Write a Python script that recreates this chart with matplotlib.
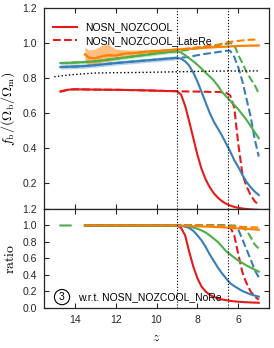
import numpy as np
import matplotlib
matplotlib.use("Agg")
import matplotlib.pyplot as plt

plt.rcParams['font.family'] = ['Liberation Sans', 'DejaVu Sans']
plt.rcParams['mathtext.fontset'] = 'cm'
plt.rcParams['font.size'] = 7.5

# colours (Set1-like)
c_red, c_blue, c_green, c_orange = '#e41a1c', '#377eb8', '#4daf4a', '#ff7f00'

# ---- top panel: baryon fraction ----
z_early = [14.7, 14.3, 14.0, 13.5, 13.0, 12.0, 11.0, 10.0, 9.5, 9.0]
red_early = [0.722, 0.733, 0.735, 0.734, 0.733, 0.732, 0.73, 0.727, 0.725, 0.724]
blue_early = [0.862, 0.864, 0.865, 0.868, 0.873, 0.885, 0.895, 0.905, 0.91, 0.915]
green_early = [0.885, 0.886, 0.888, 0.891, 0.895, 0.91, 0.925, 0.94, 0.947, 0.953]

z_late = [8.8, 8.6, 8.4, 8.2, 8.0, 7.8, 7.6, 7.4, 7.2, 7.0, 6.8, 6.6, 6.4,
          6.2, 6.0, 5.8, 5.6, 5.4, 5.2, 5.0]
red_solid = [0.705, 0.64, 0.55, 0.455, 0.36, 0.28, 0.22, 0.175, 0.14, 0.115,
             0.095, 0.08, 0.07, 0.062, 0.057, 0.053, 0.05, 0.048, 0.046, 0.045]
blue_solid = [0.91, 0.895, 0.87, 0.83, 0.78, 0.72, 0.66, 0.60, 0.55, 0.51,
              0.47, 0.425, 0.38, 0.33, 0.29, 0.245, 0.205, 0.175, 0.15, 0.13]
green_solid = [0.945, 0.93, 0.912, 0.895, 0.875, 0.853, 0.83, 0.808, 0.785, 0.755,
               0.72, 0.695, 0.67, 0.645, 0.62, 0.59, 0.56, 0.525, 0.49, 0.455]
red_late = [0.723, 0.723, 0.722, 0.722, 0.722, 0.721, 0.721, 0.72, 0.72, 0.72,
            0.718, 0.715, 0.70, 0.63, 0.42, 0.25, 0.18, 0.13, 0.095, 0.072]
blue_late = [0.916, 0.918, 0.92, 0.925, 0.93, 0.934, 0.938, 0.941, 0.944, 0.948,
             0.951, 0.955, 0.955, 0.92, 0.86, 0.78, 0.68, 0.58, 0.45, 0.35]
green_late = [0.955, 0.958, 0.962, 0.966, 0.97, 0.974, 0.978, 0.981, 0.984, 0.988,
              0.991, 0.995, 1.0, 0.99, 0.93, 0.885, 0.835, 0.795, 0.76, 0.71]

z_or = [13.5, 13.3, 13.0, 12.7, 12.4, 12.0, 11.5, 11.0, 10.5, 10.0, 9.5, 9.0,
        8.5, 8.0, 7.5, 7.0, 6.5, 6.0, 5.5, 5.0]
orange_solid = [0.935, 0.915, 0.912, 0.922, 0.93, 0.928, 0.94, 0.943, 0.95, 0.953, 0.958, 0.963,
                0.966, 0.97, 0.974, 0.977, 0.98, 0.983, 0.985, 0.986]
orange_late = [0.935, 0.915, 0.912, 0.922, 0.93, 0.928, 0.94, 0.943, 0.95, 0.953, 0.958, 0.963,
               0.968, 0.975, 0.983, 0.99, 1.005, 1.012, 1.018, 1.02]
orange_hi = [0.975, 0.96, 0.965, 0.985, 0.995, 0.965, 0.96, 0.96, 0.962, 0.965, 0.967, 0.97,
             0.972, 0.975, 0.978, 0.981, 0.984, 0.987, 0.989, 0.99]
orange_lo = [0.89, 0.875, 0.88, 0.89, 0.895, 0.905, 0.915, 0.925, 0.935, 0.945, 0.95, 0.955,
             0.96, 0.965, 0.97, 0.973, 0.976, 0.979, 0.981, 0.982]

z_dot = [15.0, 14.0, 13.0, 12.0, 11.0, 10.0, 9.0, 8.0, 7.0, 6.0, 5.0]
dotted_ref = [0.807, 0.82, 0.828, 0.83, 0.831, 0.833, 0.835, 0.837, 0.839, 0.84, 0.84]

# ---- bottom panel: ratio w.r.t. NoRe ----
z_r = [14.7, 14.2, 14.0, 13.5, 12.0, 10.0, 9.0, 8.8, 8.6, 8.4, 8.2, 8.0, 7.8, 7.6, 7.4,
       7.2, 7.0, 6.8, 6.6, 6.4, 6.2, 6.0, 5.8, 5.6, 5.4, 5.2, 5.0]
nan = np.nan
r_red = [nan, nan, nan, 1.0, 1.0, 1.0, 1.0, 0.97, 0.88, 0.68, 0.50, 0.36, 0.26, 0.20, 0.16,
         0.135, 0.115, 0.104, 0.095, 0.087, 0.08, 0.076, 0.072, 0.069, 0.067, 0.065, 0.063]
r_blue = [nan, nan, nan, 1.0, 1.0, 1.0, 1.0, 0.995, 0.985, 0.97, 0.935, 0.88, 0.82, 0.74, 0.65,
          0.57, 0.49, 0.42, 0.36, 0.30, 0.265, 0.235, 0.205, 0.185, 0.165, 0.15, 0.137]
r_green = [1.0, 1.0, nan, 1.0, 1.0, 1.0, 1.0, 0.998, 0.995, 0.988, 0.975, 0.96, 0.94, 0.915, 0.88,
           0.84, 0.80, 0.745, 0.69, 0.65, 0.61, 0.575, 0.545, 0.515, 0.49, 0.465, 0.44]
r_orange = [nan, nan, nan, 1.0, 1.0, 1.0, 1.0, 0.998, 0.995, 0.993, 0.991, 0.99, 0.988, 0.986, 0.984,
            0.982, 0.98, 0.977, 0.975, 0.972, 0.968, 0.965, 0.962, 0.958, 0.955, 0.951, 0.948]
r_red_late = [nan, nan, nan, 1.0, 1.0, 1.0, 1.0, 1.0, 1.0, 1.0, 1.0, 1.0, 1.0, 1.0, 1.0,
              1.0, 1.0, 1.0, 1.0, 0.98, 0.88, 0.65, 0.43, 0.30, 0.20, 0.14, 0.10]
r_blue_late = [nan, nan, nan, 1.0, 1.0, 1.0, 1.0, 1.0, 1.0, 1.0, 1.0, 1.0, 1.0, 1.0, 1.0,
               1.0, 1.0, 1.0, 1.0, 0.995, 0.99, 0.95, 0.83, 0.71, 0.59, 0.46, 0.37]
r_green_late = [nan, nan, nan, 1.0, 1.0, 1.0, 1.0, 1.0, 1.0, 1.0, 1.0, 1.0, 1.0, 1.0, 1.0,
                1.0, 1.0, 1.0, 1.0, 1.0, 1.0, 0.99, 0.97, 0.94, 0.86, 0.77, 0.72]
r_orange_late = [nan, nan, nan, 1.0, 1.0, 1.0, 1.0, 1.0, 1.0, 1.0, 1.0, 1.0, 0.999, 0.998, 0.997,
                 0.996, 0.995, 0.993, 0.991, 0.99, 0.988, 0.985, 0.983, 0.98, 0.978, 0.976, 0.975]

fig = plt.figure(figsize=(2.74, 3.48), dpi=100)
ax1 = fig.add_axes([0.1606, 0.3994, 0.8212, 0.5776])
ax2 = fig.add_axes([0.1606, 0.115, 0.8212, 0.2845], sharex=ax1)

lw = 1.5
ze = np.array(z_early)
ax1.fill_between(ze, np.array(blue_early) - 0.012, np.array(blue_early) + 0.012,
                 color=c_blue, alpha=0.35, lw=0)
ax1.fill_between(ze, np.array(green_early) - 0.01, np.array(green_early) + 0.01,
                 color=c_green, alpha=0.35, lw=0)
ax1.fill_between(z_or, orange_lo, orange_hi, color=c_orange, alpha=0.5, lw=0)

z_all = z_early + z_late
ax1.plot(z_all, red_early + red_late, color=c_red, lw=lw, ls='--')
ax1.plot(z_all, blue_early + blue_late, color=c_blue, lw=lw, ls='--')
ax1.plot(z_all, green_early + green_late, color=c_green, lw=lw, ls='--')
ax1.plot(z_or, orange_late, color=c_orange, lw=lw, ls='--')
ax1.plot(z_all, red_early + red_solid, color=c_red, lw=lw, label='NOSN_NOZCOOL')
ax1.plot(z_all, blue_early + blue_solid, color=c_blue, lw=lw)
ax1.plot(z_all, green_early + green_solid, color=c_green, lw=lw)
ax1.plot(z_or, orange_solid, color=c_orange, lw=lw)
ax1.plot([], [], color=c_red, lw=lw, ls='--', label='NOSN_NOZCOOL_LateRe')
ax1.plot(z_dot, dotted_ref, color='k', lw=1, ls=':')

ax2.plot(z_r, r_red_late, color=c_red, lw=lw, ls='--')
ax2.plot(z_r, r_blue_late, color=c_blue, lw=lw, ls='--')
ax2.plot(z_r, r_green_late, color=c_green, lw=lw, ls='--')
ax2.plot(z_r, r_orange_late, color=c_orange, lw=lw, ls='--')
ax2.plot(z_r, r_red, color=c_red, lw=lw)
ax2.plot(z_r, r_blue, color=c_blue, lw=lw)
ax2.plot(z_r, r_green, color=c_green, lw=lw)
ax2.plot(z_r, r_orange, color=c_orange, lw=lw)

for ax in (ax1, ax2):
    for zv in (9.0, 6.5):
        ax.axvline(zv, color='k', lw=0.8, ls=':')
    ax.tick_params(direction='in', top=True, right=True, length=3.5, width=0.8,
                   pad=5, colors='#262626', labelcolor='#262626')
    for s in ax.spines.values():
        s.set_color('#262626')
        s.set_linewidth(0.9)

ax1.set_xlim(15.5, 4.5)
ax1.set_ylim(0.05, 1.2)
ax1.set_yticks([0.2, 0.4, 0.6, 0.8, 1.0, 1.2])
ax1.set_xticks([14, 12, 10, 8, 6])
ax1.tick_params(labelbottom=False)
ax1.set_ylabel(r'$f_{\rm b}/(\Omega_{\rm b}/\Omega_{\rm m})$', fontsize=10)

ax2.set_ylim(0.0, 1.2)
ax2.set_yticks([0.0, 0.2, 0.4, 0.6, 0.8, 1.0, 1.2])
ax2.set_ylabel(r'$\rm ratio$', fontsize=10)
ax2.set_xlabel(r'$z$', fontsize=10)

ax1.legend(loc='upper left', bbox_to_anchor=(0.0, 0.975), frameon=False,
           handlelength=2.3, handletextpad=0.7, labelspacing=0.35)

ax2.text(0.08, 0.11, '3', transform=ax2.transAxes, ha='center', va='center',
         bbox=dict(boxstyle='circle,pad=0.25', fc='none', ec='k', lw=0.8))
ax2.text(0.149, 0.11, 'w.r.t. NOSN_NOZCOOL_NoRe', transform=ax2.transAxes,
         ha='left', va='center')

fig.align_ylabels([ax1, ax2])
fig.savefig('out.png', dpi=100)
